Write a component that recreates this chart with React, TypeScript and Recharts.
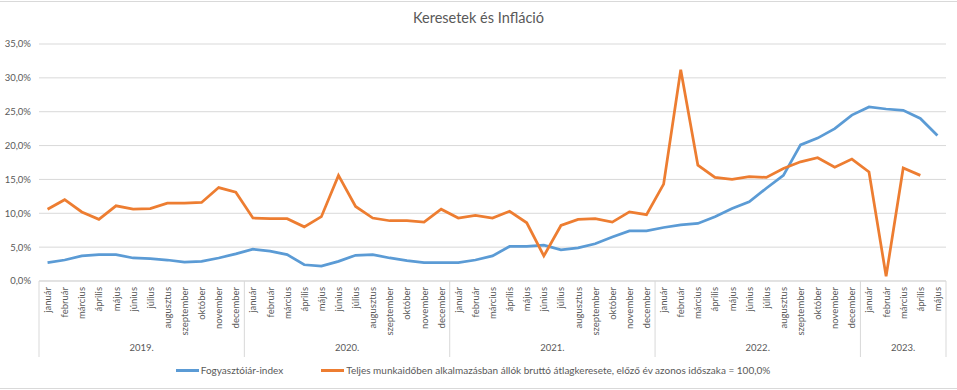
import React from 'react';
import { LineChart, Line, XAxis, YAxis, CartesianGrid, Legend } from 'recharts';

const months = ['január', 'február', 'március', 'április', 'május', 'június', 'július', 'augusztus', 'szeptember', 'október', 'november', 'december'];
const years = ['2019.', '2020.', '2021.', '2022.', '2023.'];
const monthsPerYear = [12, 12, 12, 12, 5];

const cpi = [
  2.7, 3.1, 3.7, 3.9, 3.9, 3.4, 3.3, 3.1, 2.8, 2.9, 3.4, 4.0,
  4.7, 4.4, 3.9, 2.4, 2.2, 2.9, 3.8, 3.9, 3.4, 3.0, 2.7, 2.7,
  2.7, 3.1, 3.7, 5.1, 5.1, 5.3, 4.6, 4.9, 5.5, 6.5, 7.4, 7.4,
  7.9, 8.3, 8.5, 9.5, 10.7, 11.7, 13.7, 15.6, 20.1, 21.1, 22.5, 24.5,
  25.7, 25.4, 25.2, 24.0, 21.5,
];

const wage: (number | null)[] = [
  10.6, 12.0, 10.2, 9.1, 11.1, 10.6, 10.7, 11.5, 11.5, 11.6, 13.8, 13.1,
  9.3, 9.2, 9.2, 8.0, 9.5, 15.6, 11.0, 9.3, 8.9, 8.9, 8.7, 10.6,
  9.3, 9.7, 9.3, 10.3, 8.6, 3.7, 8.2, 9.1, 9.2, 8.7, 10.2, 9.8,
  14.3, 31.2, 17.1, 15.3, 15.0, 15.4, 15.3, 16.6, 17.6, 18.2, 16.8, 18.0,
  16.1, 0.7, 16.7, 15.6, null,
];

const yTicks = [0, 5, 10, 15, 20, 25, 30, 35];

const seriesNames = {
  cpi: 'Fogyasztóiár-index',
  wage: 'Teljes munkaidőben alkalmazásban állók bruttó átlagkeresete, előző év azonos időszaka = 100,0%',
};

type Row = { key: string; month: string; m: number; y: number; cpi: number; wage: number | null };

const rows: Row[] = [];
{
  let k = 0;
  years.forEach((yr, yi) => {
    for (let m = 0; m < monthsPerYear[yi]; m++) {
      rows.push({ key: `${yr}-${m}`, month: months[m], m, y: yi, cpi: cpi[k], wage: wage[k] });
      k++;
    }
  });
}

const FONT = 'Lato, "Open Sans", sans-serif';
const TEXT = '#595959';
const GRID = '#d9d9d9';
const BLUE = '#5b9bd5';
const ORANGE = '#ed7d31';

const MonthTick = (props: any) => {
  const { x, y, payload, index, width, visibleTicksCount } = props;
  const i = typeof payload?.index === 'number' ? payload.index : index;
  const row = rows[i];
  if (!row) return null;
  const bw = payload?.offset ? payload.offset * 2 : width / visibleTicksCount;
  const sepH = 76;
  const els: any[] = [];
  els.push(
    <text
      key="t"
      transform={`translate(${x},${y + 6}) rotate(-90)`}
      textAnchor="end"
      dominantBaseline="central"
      fontSize={9.5}
      fontFamily={FONT}
      fill={TEXT}
    >
      {row.month}
    </text>
  );
  if (row.m === 0) {
    const left = x - bw / 2;
    els.push(<line key="l" x1={left} x2={left} y1={y} y2={y + sepH} stroke={GRID} strokeWidth={1} />);
    const cnt = monthsPerYear[row.y];
    els.push(
      <text key="yr" x={left + (cnt * bw) / 2} y={y + 70} textAnchor="middle" fontSize={9.5} fontFamily={FONT} fill={TEXT}>
        {years[row.y]}
      </text>
    );
  }
  if (i === rows.length - 1) {
    const right = x + bw / 2;
    els.push(<line key="r" x1={right} x2={right} y1={y} y2={y + sepH} stroke={GRID} strokeWidth={1} />);
  }
  return <g>{els}</g>;
};

const LegendContent = () => (
  <div
    style={{
      display: 'flex',
      justifyContent: 'center',
      alignItems: 'center',
      height: 24,
      paddingTop: 2,
      boxSizing: 'border-box',
      fontFamily: FONT,
      fontSize: 10,
      color: TEXT,
      whiteSpace: 'nowrap',
    }}
  >
    <span style={{ display: 'inline-block', width: 23, height: 3, background: BLUE, marginRight: 2 }} />
    <span>{seriesNames.cpi}</span>
    <span style={{ display: 'inline-block', width: 23, height: 3, background: ORANGE, marginLeft: 38, marginRight: 2 }} />
    <span>{seriesNames.wage}</span>
  </div>
);

export default function App() {
  return (
    <div style={{ position: 'absolute', left: 0, top: 0, width: 957, height: 390, background: '#fff' }}>
      <div
        style={{
          position: 'absolute',
          left: 0,
          top: 0,
          width: 957,
          textAlign: 'center',
          fontFamily: FONT,
          fontSize: 14.5,
          color: TEXT,
          lineHeight: '36px',
        }}
      >
        Keresetek és Infláció
      </div>
      <LineChart width={957} height={390} data={rows} margin={{ top: 44, right: 11, left: 0, bottom: 9 }}>
        <CartesianGrid vertical={false} stroke={GRID} strokeWidth={1} />
        <XAxis
          dataKey="key"
          scale="band"
          interval={0}
          tick={<MonthTick />}
          tickLine={false}
          tickSize={0}
          tickMargin={0}
          axisLine={{ stroke: GRID }}
          height={76}
        />
        <YAxis
          domain={[0, 35]}
          ticks={yTicks}
          tickFormatter={(v: number) => v.toFixed(1).replace('.', ',') + '%'}
          axisLine={false}
          tickLine={false}
          width={39}
          tick={{ fontSize: 9.5, fontFamily: FONT, fill: TEXT }}
        />
        <Legend verticalAlign="bottom" content={<LegendContent />} />
        <Line
          type="linear"
          dataKey="cpi"
          name={seriesNames.cpi}
          stroke={BLUE}
          strokeWidth={2.75}
          dot={false}
          isAnimationActive={false}
        />
        <Line
          type="linear"
          dataKey="wage"
          name={seriesNames.wage}
          stroke={ORANGE}
          strokeWidth={2.75}
          dot={false}
          isAnimationActive={false}
        />
      </LineChart>
      <div
        style={{
          position: 'absolute',
          left: 0,
          top: 1,
          width: 957,
          height: 386,
          borderTop: `1px solid ${GRID}`,
          borderBottom: `1px solid ${GRID}`,
          pointerEvents: 'none',
        }}
      />
    </div>
  );
}
